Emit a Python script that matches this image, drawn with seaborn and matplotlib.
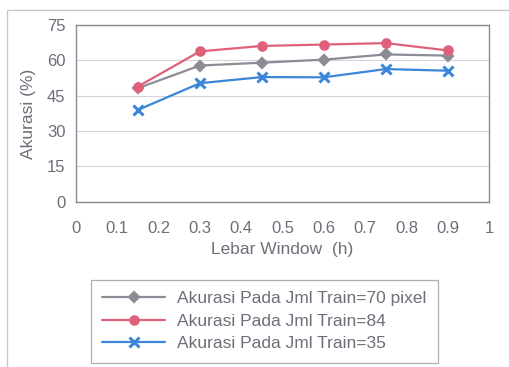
import numpy as np
import pandas as pd
import matplotlib
matplotlib.use("Agg")
import matplotlib.pyplot as plt
import seaborn as sns

# data
lebar = [0.15, 0.3, 0.45, 0.6, 0.75, 0.9]
akurasi_70 = [48.2, 57.8, 59.0, 60.3, 62.5, 62.0]
akurasi_84 = [48.9, 63.8, 66.1, 66.7, 67.3, 64.2]
akurasi_35 = [39.0, 50.3, 52.9, 52.8, 56.3, 55.6]
labels = ["Akurasi Pada Jml Train=70 pixel",
          "Akurasi Pada Jml Train=84",
          "Akurasi Pada Jml Train=35"]

sns.set_style("white")
plt.rcParams['font.family'] = ['Liberation Sans', 'DejaVu Sans']
txt = "#6e6e7a"

fig = plt.figure(figsize=(5.10, 3.67), dpi=100)
ax = fig.add_axes([0.149, 0.450, 0.810, 0.482])

# outer frame of the original chart
fig.patches.append(plt.Rectangle((0.014, -0.05), 1.2, 1.023, transform=fig.transFigure,
                                 fill=False, edgecolor="#c8c8c8", lw=1))

styles = [("#8c8c96", "D", 5, 1.6), ("#e0607a", "o", 6, 1.6), ("#3a86d8", "x", 7, 2.2)]
for vals, lab, (c, m, ms, mew) in zip([akurasi_70, akurasi_84, akurasi_35], labels, styles):
    sns.lineplot(x=lebar, y=vals, ax=ax, color=c, marker=m, markersize=ms,
                 markeredgewidth=mew, markeredgecolor=c, linewidth=1.6, label=lab)

ax.set_xlim(0, 1)
ax.set_ylim(0, 75)
ax.set_xticks(np.arange(0, 1.01, 0.1))
ax.set_xticklabels(["0", "0.1", "0.2", "0.3", "0.4", "0.5", "0.6", "0.7", "0.8", "0.9", "1"])
ax.set_yticks(np.arange(0, 76, 15))
ax.grid(axis="y", color="#d4d4dc", lw=0.8)
for s in ax.spines.values():
    s.set_color("#8a8a96")
    s.set_linewidth(1)
ax.tick_params(axis="both", colors="#8a8a96", labelcolor=txt, labelsize=12,
               direction="out", length=4, width=1)
ax.tick_params(axis="x", pad=10)
ax.set_xlabel("Lebar Window  (h)", color=txt, fontsize=12.5, labelpad=4)
ax.set_ylabel("Akurasi (%)", color=txt, fontsize=12.5, labelpad=8)

leg = ax.legend(loc="upper left", bbox_to_anchor=(91 / 510, 1 - 280 / 367),
                bbox_transform=fig.transFigure, borderaxespad=0, frameon=True, fancybox=False,
                fontsize=12.5, handlelength=3.6, handletextpad=0.7,
                labelspacing=0.42, borderpad=0.65)
leg.get_frame().set_edgecolor("#9a9aa4")
leg.get_frame().set_linewidth(0.9)
for t in leg.get_texts():
    t.set_color(txt)

fig.savefig("out.png", dpi=100)
